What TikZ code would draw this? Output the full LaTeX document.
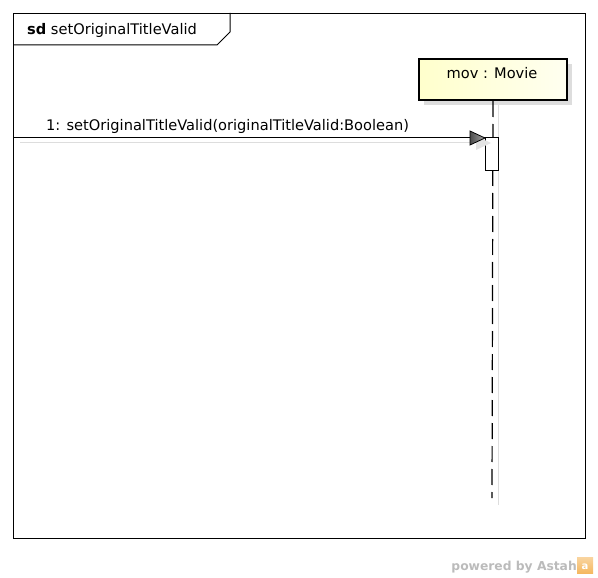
\documentclass[tikz,border=0pt]{standalone}
\usepackage{fontspec}
\setmainfont{DejaVu Sans}
\definecolor{boxyel}{HTML}{FFFFCC}
\definecolor{boxyel2}{HTML}{FFFFF0}
\definecolor{shadowc}{HTML}{DDDDDD}
\definecolor{astahgray}{HTML}{BBBBBB}
\definecolor{astahor}{HTML}{F5B860}
\begin{document}
\begin{tikzpicture}[x=1pt,y=-1pt,
  lbl/.style={font=\fontsize{14.6}{17}\selectfont, inner sep=0pt},
  framestyle/.style={draw=black, line width=1pt},
  lifebox/.style={draw=black, line width=2pt, left color=boxyel, right color=boxyel2, minimum width=148pt, minimum height=41pt, inner sep=0pt},
  shadowbox/.style={fill=shadowc, minimum width=148pt, minimum height=41pt, inner sep=0pt},
  lifeline/.style={line width=1.2pt, dash pattern=on 16pt off 7pt},
  shadowline/.style={draw=shadowc, line width=1pt},
  actbox/.style={draw=black, line width=1pt, fill=white, minimum width=13pt, minimum height=33pt, inner sep=0pt},
  msg/.style={line width=1pt}
]
\useasboundingbox (0,0) rectangle (598,578);
% frame
\node[framestyle, minimum width=572pt, minimum height=525pt, inner sep=0pt, anchor=north west] (frame) at (13,13) {};
\draw[line width=1pt] (13,45) -- (217,45) -- (230,32) -- (230,13);
\node[lbl, anchor=base west] (title) at (27,35) {\textbf{sd} setOriginalTitleValid};
% lifeline head
\node[shadowbox, anchor=north west] (headshadow) at (424,64) {};
\node[lifebox, anchor=north west] (head) at (418,58) {};
\node[lbl, anchor=base] (headlbl) at (492,79) {mov : Movie};
% lifeline shadow & dashed line
\coordinate (lsend) at (498,505);
\coordinate (llend) at (492,498);
\draw[shadowline] (498,105) -- (lsend);
\draw[lifeline] (head.south) -- (llend);
% activation
\node[actbox, anchor=north west] (act) at (485,137) {};
% message shadow
\coordinate (msgstart) at (13,138);
\coordinate (shstart) at (20,143);
\coordinate (shend) at (476,143);
\draw[shadowline] (shstart) -- (shend);
\fill[shadowc!80] (476,136) -- (491,143) -- (476,150) -- cycle;
% message
\draw[msg] (msgstart) -- (act.north west |- msgstart);
\shade[draw=black, line width=0.8pt, left color=black!70, right color=black!35] (470,131) -- (485,138) -- (470,145) -- cycle;
\node[lbl, anchor=base west] (msglbl) at (46,131) {1: setOriginalTitleValid(originalTitleValid:Boolean)};
% powered by
\node[font=\bfseries\fontsize{12.3}{14}\selectfont, text=astahgray, inner sep=0pt, anchor=base east] (pwr) at (577,570) {powered by Astah};
\shade[top color=astahor!60, bottom color=astahor] (577,557) rectangle (593,573);
\node[font=\bfseries\fontsize{10}{10}\selectfont, text=white, inner sep=0pt] (logo) at (585,567) {a};
\end{tikzpicture}
\end{document}
